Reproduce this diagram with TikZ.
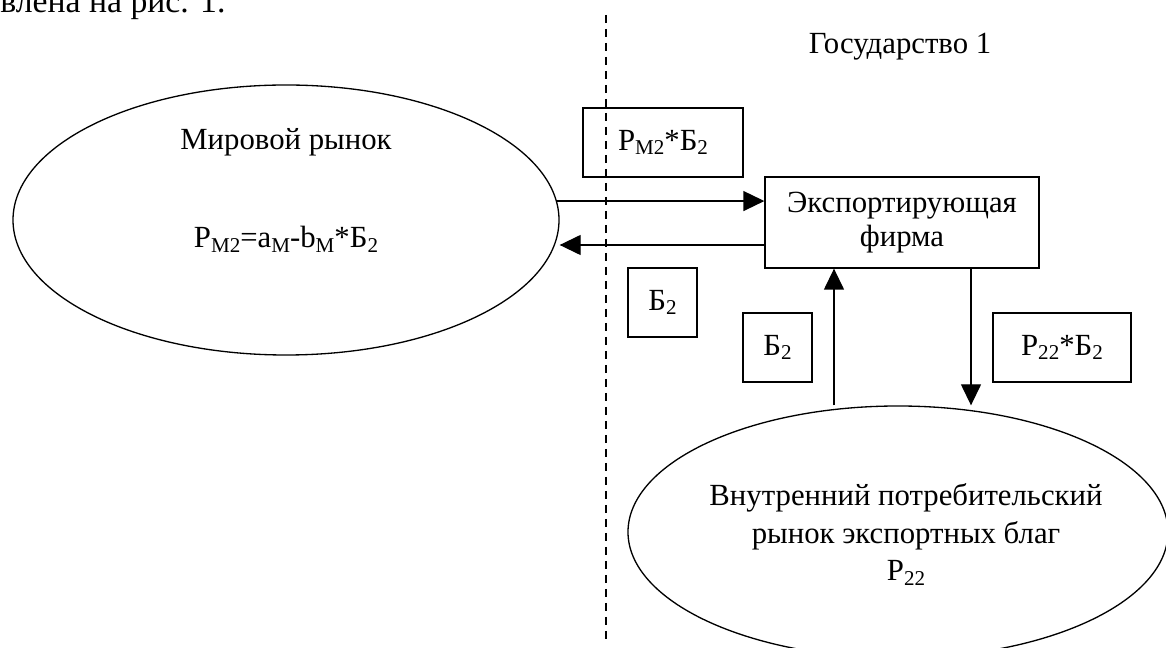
\documentclass[tikz,border=0pt]{standalone}
\usepackage{fontspec}
\setmainfont{Liberation Serif}
\usetikzlibrary{arrows.meta,shapes.geometric}
\newcommand{\sublo}[1]{\raisebox{-0.14em}{\fontsize{12pt}{12pt}\selectfont #1}}
\begin{document}
\begin{tikzpicture}[font=\fontsize{17.5pt}{20pt}\selectfont,
    box/.style={draw, line width=0.75pt, inner sep=0pt, minimum height=1.38cm},
    market/.style={draw, ellipse, line width=0.75pt, inner sep=0pt},
    arr/.style={line width=0.75pt, -{Triangle[length=0.42cm,width=0.4cm]}}]
    \useasboundingbox (0,0) rectangle (23.32,12.96);
    \clip (0,0) rectangle (23.32,12.96);
    \node[anchor=base west, inner sep=0pt, font=\fontsize{19.2pt}{22pt}\selectfont] (intro) at (0,12.7) {влена на рис. 1.};
    \node (state) at (18.0,12.02) {Государство 1};
    \draw[line width=1pt, dash pattern=on 0.16cm off 0.12cm] (12.12,12.66) -- (12.12,0.1);
    \node[market, minimum width=10.92cm, minimum height=5.4cm] (world) at (5.72,8.56) {};
    \node[anchor=base] (worldname) at (5.72,9.96) {Мировой рынок};
    \node[anchor=base] (worldprice) at (5.72,8.0) {Р\sublo{М2}=a\sublo{М}-b\sublo{М}*Б\sublo{2}};
    \node[box, minimum width=5.48cm, minimum height=1.82cm, align=center,
        font=\fontsize{17.5pt}{19.8pt}\selectfont] (firm) at (18.04,8.51) {Экспортирующая\\фирма};
    \node[market, minimum width=10.8cm, minimum height=5.04cm] (home) at (17.96,2.32) {};
    \node[align=center, font=\fontsize{17.5pt}{21.5pt}\selectfont] (homename) at (18.12,2.62)
        {Внутренний потребительский\\рынок экспортных благ};
    \node[anchor=base] (homeprice) at (18.12,1.34) {Р\sublo{22}};
    \node[box, minimum width=3.2cm] (pm) at (13.26,10.11) {Р\sublo{М2}*Б\sublo{2}};
    \node[box, minimum width=1.38cm] (qa) at (13.25,6.91) {Б\sublo{2}};
    \node[box, minimum width=1.38cm] (qb) at (15.55,6.01) {Б\sublo{2}};
    \node[box, minimum width=2.76cm] (pd) at (21.24,6.01) {Р\sublo{22}*Б\sublo{2}};
    \draw[arr] (world.4.5) -- (world.4.5 -| firm.west);
    \draw[arr] ([yshift=-0.45cm]firm.west) -- ([yshift=-0.45cm]firm.west -| world.east);
    \draw[arr] ([xshift=-1.36cm]firm.south |- home.north) -- ([xshift=-1.36cm]firm.south);
    \draw[arr] ([xshift=1.38cm]firm.south) -- ([xshift=1.38cm]firm.south |- home.north);
\end{tikzpicture}
\end{document}
